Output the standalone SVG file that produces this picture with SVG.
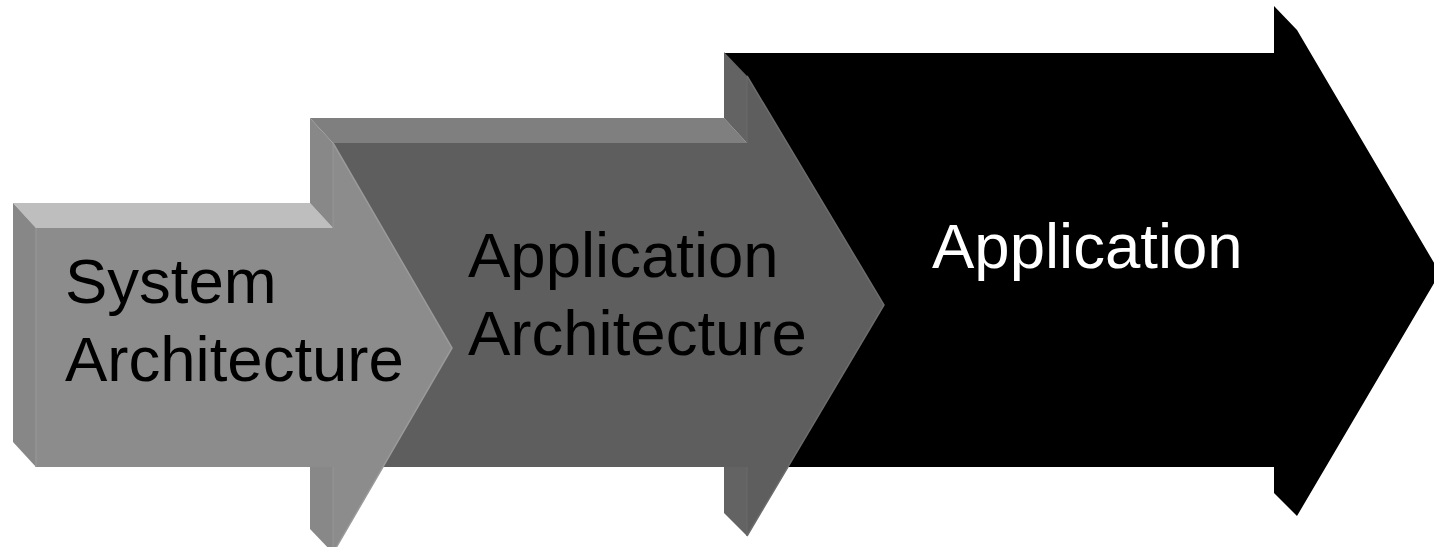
<svg xmlns="http://www.w3.org/2000/svg" width="1434" height="547" viewBox="0 0 1434 547">
<style>
text{font-family:"Liberation Sans",Arial,sans-serif;font-size:63.5px}
.dark{fill:#000}
.light{fill:#fff}
</style>
<rect width="1434" height="547" fill="#fff"/>
<g id="arrow3">
<polygon fill="#000" points="724,53 1274,53 1274,6 1297,30 1440,273 1297,516 1274,493 1274,467 747,467 747,78"/>
<text class="light" x="932" y="268">Application</text>
</g>
<g id="arrow2">
<polygon fill="#7f7f7f" points="310,118 724,118 747,143 333,143"/>
<polygon fill="#636363" points="724,52 747,76 747,143 724,118"/>
<polygon fill="#636363" points="724,442 747,467 747,536 724,513"/>
<polygon fill="#5e5e5e" points="333,143 747,143 747,76 884,305 747,536 747,467 333,467"/>
<polyline fill="none" stroke="#6c6c6c" stroke-width="1.5" points="747,76 884,305 747,536"/>
<line x1="747" y1="76" x2="747" y2="143" stroke="#6a6a6a" stroke-width="1"/>
<line x1="747" y1="467" x2="747" y2="536" stroke="#6a6a6a" stroke-width="1"/>
<text class="dark" x="468" y="277">Application</text>
<text class="dark" x="468" y="355">Architecture</text>
</g>
<g id="arrow1">
<polygon fill="#bebebe" points="13,203 310,203 333,228 36,228"/>
<polygon fill="#878787" points="13,203 36,228 36,467 13,442"/>
<polygon fill="#888888" points="310,118 333,143 333,228 310,203"/>
<polygon fill="#888888" points="310,442 333,467 333,553 310,529"/>
<polygon fill="#8c8c8c" points="36,228 333,228 333,143 452,348 333,553 333,467 36,467"/>
<polyline fill="none" stroke="#9a9a9a" stroke-width="1.5" points="333,143 452,348 333,553"/>
<line x1="36" y1="228" x2="36" y2="467" stroke="#959595" stroke-width="1.5"/>
<line x1="333" y1="143" x2="333" y2="228" stroke="#959595" stroke-width="1"/>
<line x1="333" y1="467" x2="333" y2="553" stroke="#959595" stroke-width="1"/>
<text class="dark" x="65" y="303">System</text>
<text class="dark" x="65" y="381">Architecture</text>
</g>
<g id="connectors"/>
</svg>
